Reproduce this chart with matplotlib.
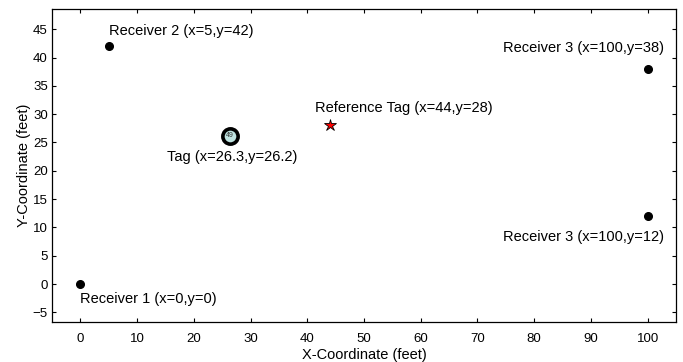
import numpy as np
import matplotlib.pyplot as plt

plt.rcParams['font.family'] = ['Liberation Sans', 'DejaVu Sans']

# receivers
rx_x = [0, 5, 100, 100]
rx_y = [0, 42, 38, 12]
rx_labels = ['Receiver 1 (x=0,y=0)', 'Receiver 2 (x=5,y=42)',
			 'Receiver 3 (x=100,y=38)', 'Receiver 3 (x=100,y=12)']

# reference tag
ref_x = 44
ref_y = 28
ref_label = 'Reference Tag (x=44,y=28)'

# estimated tag
tag_x = 26.3
tag_y = 26.2
tag_id = '49'
tag_label = 'Tag (x=26.3,y=26.2)'

x_ticks = np.arange(0, 101, 10)
y_ticks = np.arange(-5, 46, 5)

fig = plt.figure(figsize = (6.83, 3.62), dpi = 100)
ax = fig.add_axes([0.0761, 0.1105, 0.9136, 0.8635])

ax.plot(rx_x, rx_y, 'o', color = 'black', markersize = 5.5, linestyle = 'none')

ax.plot(ref_x, ref_y, marker = '*', markersize = 9, markerfacecolor = 'red',
		markeredgecolor = 'black', markeredgewidth = 0.6, linestyle = 'none')

ax.plot(tag_x, tag_y, 'o', markersize = 11, markerfacecolor = '#bfe3e0',
		markeredgecolor = 'black', markeredgewidth = 2.6, linestyle = 'none')
ax.text(tag_x, tag_y, tag_id, fontsize = 5, color = '#333333',
		ha = 'center', va = 'center')

# label anchors (left edge, centre) in data units
label_pos = [(0, -2.6), (5, 44.6), (74.5, 41.7), (74.5, 8.3)]

for (lx, ly), text in zip(label_pos, rx_labels):

	ax.text(lx, ly, text, fontsize = 10.5, ha = 'left', va = 'center')

ax.text(41.3, 31.1, ref_label, fontsize = 10.5, ha = 'left', va = 'center')
ax.text(15.2, 22.4, tag_label, fontsize = 10.5, ha = 'left', va = 'center')

ax.set_xlim(-5, 105)
ax.set_ylim(-6.7, 48.5)
ax.set_xticks(x_ticks)
ax.set_yticks(y_ticks)
ax.tick_params(direction = 'in', top = True, right = True, labelsize = 9.5,
			   length = 3, width = 0.8)
ax.tick_params(axis = 'x', pad = 8)
ax.tick_params(axis = 'y', pad = 3)

for spine in ax.spines.values():

	spine.set_linewidth(0.9)

ax.set_xlabel('X-Coordinate (feet)', fontsize = 10.5, labelpad = 2)
ax.set_ylabel('Y-Coordinate (feet)', fontsize = 10.5, labelpad = 1)

fig.savefig('out.png', dpi = 100)
